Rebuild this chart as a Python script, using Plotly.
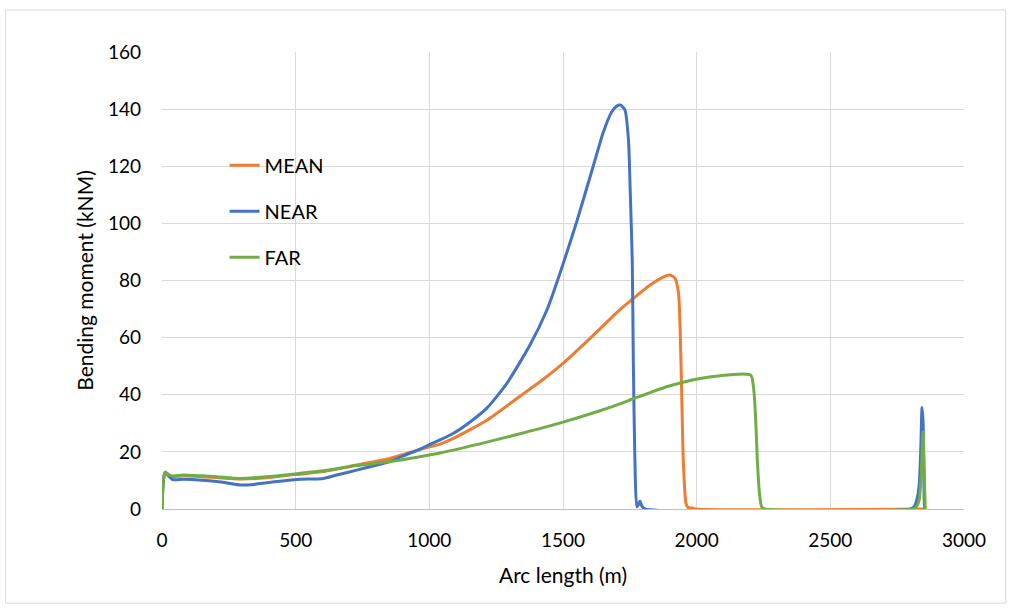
import plotly.graph_objects as go

# ---- data ----
mean_x = [0, 5, 12, 25, 40, 80, 150, 205, 292, 392, 479, 517, 603, 728, 853, 978, 1040,
          1090, 1215, 1339, 1420, 1500, 1613, 1713, 1763, 1826, 1876, 1900, 1919, 1932,
          1938, 1944, 1950, 1960, 1968, 1987, 1995, 2855]
mean_y = [0, 10, 12.9, 12.0, 11.3, 11.6, 11.3, 11.0, 10.5, 10.9, 11.9, 12.2, 13.1, 15.4,
          17.7, 21.2, 22.7, 24.7, 31.1, 39.5, 45.0, 51.0, 60.8, 69.8, 73.7, 78.4, 81.3,
          81.9, 80.8, 75.6, 63.8, 40.4, 17.0, 2.0, 0.5, 0.3, 0, 0]

near_x = [0, 5, 12, 25, 40, 80, 150, 205, 250, 292, 350, 392, 450, 517, 560, 603, 650,
          728, 800, 853, 900, 965, 1000, 1040, 1090, 1150, 1215, 1290, 1377, 1439, 1464,
          1501, 1551, 1613, 1651, 1682, 1700, 1716, 1732, 1745, 1751, 1759, 1763,
          1769, 1776, 1782, 1788, 1795, 1807, 2800, 2815, 2823, 2832, 2838, 2843, 2847,
          2850, 2853, 2855]
near_y = [0, 10, 12.9, 11.5, 10.3, 10.4, 10.1, 9.6, 9.0, 8.4, 8.7, 9.2, 9.8, 10.4, 10.5,
          10.7, 11.8, 13.6, 15.3, 16.6, 18.5, 21.0, 22.5, 24.2, 26.5, 30.3, 35.3, 44.0,
          57.5, 69.5, 75.8, 86.0, 100.5, 120.0, 132.0, 139.0, 141.0, 141.4, 139.6,
          129.0, 112.8, 87.0, 52.0, 17.0, 0.8, 1.5, 2.8, 1.0, 0, 0, 1.0, 3.0, 8.0, 20.0,
          35.5, 30.0, 10.0, 0, 0]

far_x = [0, 5, 12, 25, 40, 80, 150, 205, 292, 392, 479, 517, 603, 728, 853, 965, 1040,
         1215, 1350, 1500, 1638, 1713, 1763, 1888, 2013, 2137, 2187, 2200, 2206, 2215,
         2222, 2227, 2235, 2243, 2255, 2810, 2822, 2832, 2840, 2847, 2851, 2855]
far_y = [0, 10, 12.9, 12.0, 11.6, 11.9, 11.6, 11.3, 10.7, 11.3, 12.1, 12.5, 13.4, 15.2,
         16.6, 18.3, 19.6, 23.4, 26.6, 30.4, 34.4, 36.8, 38.6, 42.8, 45.7, 47.1, 47.2,
         47.0, 46.3, 40.5, 28.8, 17.0, 5.4, 0.8, 0, 0, 0.8, 3.0, 12.0, 27.0, 14.0, 0]

x_ticks = [0, 500, 1000, 1500, 2000, 2500, 3000]
y_ticks = [0, 20, 40, 60, 80, 100, 120, 140, 160]

FONT = "Lato"

fig = go.Figure()
series = [
    ("MEAN", mean_x, mean_y, "#ED7D31"),
    ("NEAR", near_x, near_y, "#4472C4"),
    ("FAR", far_x, far_y, "#70AD47"),
]
for name, xs, ys, col in series:
    fig.add_trace(go.Scatter(x=xs, y=ys, mode="lines", name=name, legendgroup=name,
                             line=dict(color=col, width=3, shape="spline", smoothing=0.6)))

fig.update_layout(
    width=1016, height=610,
    margin=dict(l=162, r=52, t=52, b=101),
    paper_bgcolor="white", plot_bgcolor="white",
    font=dict(family=FONT, size=19, color="#000000"),
    showlegend=True,
    legend=dict(x=0.078, y=0.795, xanchor="left", yanchor="top",
                bgcolor="rgba(0,0,0,0)", tracegroupgap=17,
                font=dict(family=FONT, size=20, color="#000000")),
    xaxis=dict(range=[0, 3000], tickvals=x_ticks, showgrid=True, gridcolor="#d9d9d9",
               gridwidth=1, zeroline=False, showline=True, linecolor="#bfbfbf",
               linewidth=1, ticks="", tickfont=dict(size=19), ticklabelstandoff=14,
               title=dict(text="Arc length (m)", font=dict(size=21), standoff=18)),
    yaxis=dict(range=[0, 160], tickvals=y_ticks, showgrid=True, gridcolor="#d9d9d9",
               gridwidth=1, zeroline=False, showline=False, ticks="",
               tickfont=dict(size=19), ticklabelstandoff=20,
               title=dict(text="Bending moment (kNM)", font=dict(size=21), standoff=8)),
    shapes=[dict(type="rect", xref="paper", yref="paper",
                 x0=-0.195, x1=1.052, y0=-0.206, y1=1.092,
                 line=dict(color="#d9d9d9", width=1), fillcolor="rgba(0,0,0,0)",
                 layer="below")],
)

fig.write_html("out.html")
